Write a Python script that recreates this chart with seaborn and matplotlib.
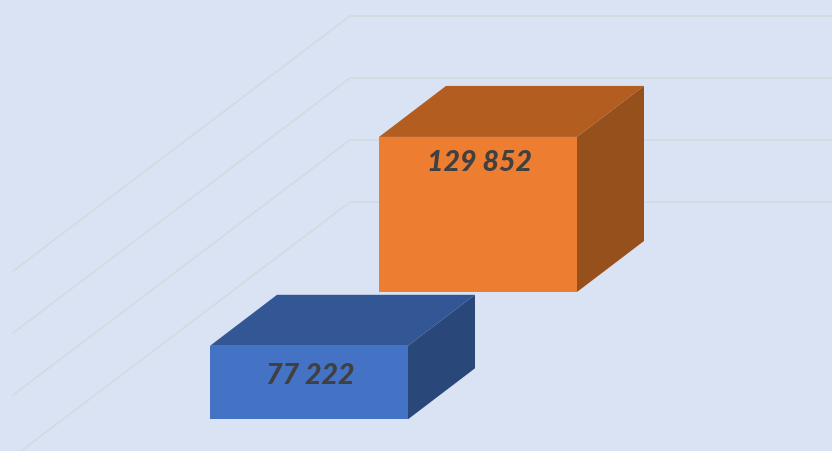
import matplotlib
matplotlib.use("Agg")
import matplotlib.pyplot as plt
from matplotlib.patches import Polygon
import seaborn as sns

# values
labels = ["77 222", "129 852"]
values = [77222, 129852]
grid_values = [70000, 110000, 150000, 190000]
base_value = 29800

# layout, in pixels of the picture
W, H = 832, 451
px_per_unit = 62 / 40000
wall_floor_px = 264
wall_x = 350
grid_start_x = 13
bar_centers = [309, 478]
bar_width = 198
bar_floor_px = [419.3, 292]
label_drop_px = [30, 26.5]
depth_x = 67
depth_y = 51

bg = "#DAE3F3"
grid_color = "#D6D9DF"
text_color = "#404040"
front = ["#4472C4", "#ED7D31"]
top = ["#335695", "#B35E20"]
side = ["#294779", "#96501C"]


def px_to_val(p):
    return 30000 + (wall_floor_px - p) / px_per_unit


sns.set_style("white")
plt.rcParams["font.family"] = ["Lato", "DejaVu Sans"]

fig, ax = plt.subplots(figsize=(W / 100, H / 100), dpi=100)
fig.patch.set_facecolor(bg)
ax.set_position([0, 0, 1, 1])
ax.set_facecolor(bg)

# walls
dep_units = depth_y / px_per_unit
for g in grid_values:
    ax.plot([wall_x, W], [g, g], color=grid_color, lw=1.2, zorder=1)
    ax.plot([grid_start_x, wall_x],
            [g - (wall_x - grid_start_x) * 0.757 / px_per_unit, g],
            color=grid_color, lw=1.2, zorder=1)

# front faces
for i in [1, 0]:
    sns.barplot(x=[bar_centers[i]], y=[values[i] - base_value],
                bottom=px_to_val(bar_floor_px[i]), width=bar_width,
                native_scale=True, color=front[i], saturation=1,
                linewidth=0, ax=ax, zorder=3)

# top and side faces, taken from the bars seaborn made
for p, i in zip(list(ax.patches), [1, 0]):
    x0 = p.get_x()
    x1 = x0 + p.get_width()
    y0 = p.get_y()
    y1 = y0 + p.get_height()
    ax.add_patch(Polygon([(x0, y1), (x1, y1), (x1 + depth_x, y1 + dep_units),
                          (x0 + depth_x, y1 + dep_units)],
                         closed=True, fc=top[i], ec="none", zorder=3))
    ax.add_patch(Polygon([(x1, y0), (x1, y1), (x1 + depth_x, y1 + dep_units),
                          (x1 + depth_x, y0 + dep_units)],
                         closed=True, fc=side[i], ec="none", zorder=3))
    ax.text((x0 + x1) / 2 + 1.5, y1 - label_drop_px[i] / px_per_unit, labels[i],
            ha="center", va="center", fontsize=20.5, fontweight=900,
            fontstyle="italic", color=text_color, zorder=4)

ax.set_xlim(0, W)
ax.set_ylim(px_to_val(H), px_to_val(0))
ax.axis("off")

fig.savefig("out.png", dpi=100, facecolor=bg)
